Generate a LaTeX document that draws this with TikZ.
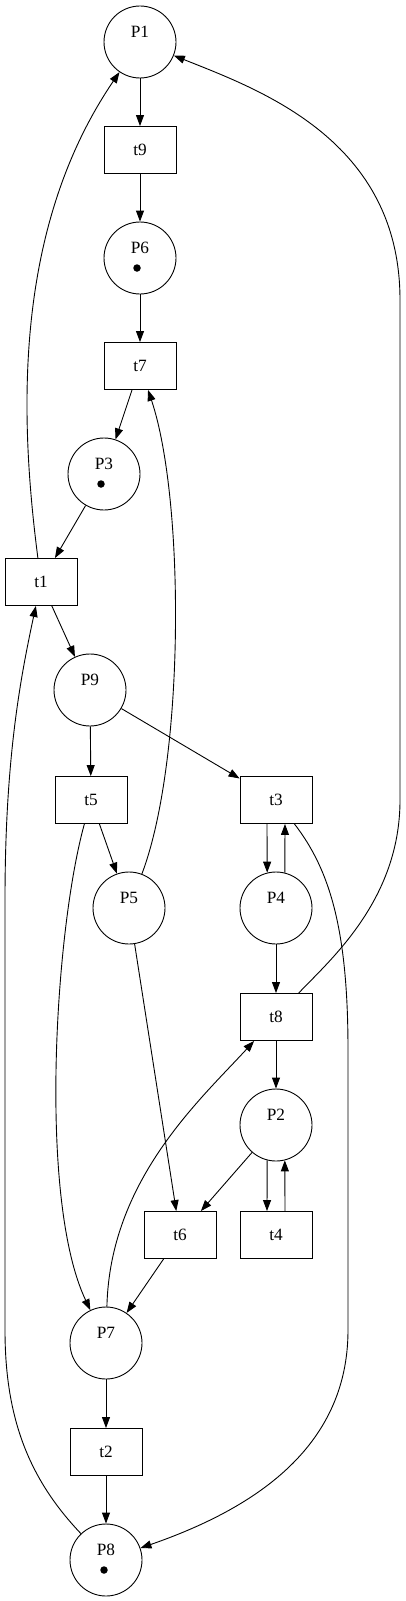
\documentclass[tikz,border=0pt]{standalone}
\usepackage{fontspec}
\setmainfont{Liberation Serif}
\usetikzlibrary{arrows.meta}
\newcommand{\pnfont}{\fontsize{17.3}{19}\selectfont}

\begin{document}
\begin{tikzpicture}[x=1bp, y=-1bp, ->, >={Triangle[length=11bp,width=8bp]}, line width=0.9bp,
    every node/.append style={font=\pnfont},
    every label/.append style={font=\pnfont},
    place/.style = {draw, circle, minimum size=72bp, inner sep=0pt, label={[yshift=10bp]center:#1}},
    trans/.style = {draw, rectangle, minimum width=72bp, minimum height=47bp, inner sep=0pt},
    tok/.style = {circle, fill, inner sep=0pt, minimum size=7.5bp}]
    \useasboundingbox (0,0) rectangle (405,1601);
    % Nodes

    \node[place=P1] (P1) at (140, 42) {};
    \node[trans] (t9) at (140, 150) {t9};
    \node[place=P6] (P6) at (140, 258) {};
    \node[trans] (t7) at (140, 366) {t7};
    \node[place=P3] (P3) at (104, 474) {};
    \node[trans] (t1) at (41, 582) {t1};
    \node[place=P9] (P9) at (90, 690) {};
    \node[trans] (t5) at (91, 800) {t5};
    \node[trans] (t3) at (276, 800) {t3};
    \node[place=P5] (P5) at (129, 908) {};
    \node[place=P4] (P4) at (276, 908) {};
    \node[trans] (t8) at (276, 1017) {t8};
    \node[place=P2] (P2) at (276, 1125) {};
    \node[trans] (t6) at (180, 1235) {t6};
    \node[trans] (t4) at (276, 1235) {t4};
    \node[place=P7] (P7) at (106, 1343) {};
    \node[trans] (t2) at (106, 1452) {t2};
    \node[place=P8] (P8) at (106, 1560) {};

    % Tokens
    \node[tok] (P6tok) at ([shift={(-3,10)}]P6.center) {};
    \node[tok] (P3tok) at ([shift={(-3,10)}]P3.center) {};
    \node[tok] (P8tok) at ([shift={(-2,10)}]P8.center) {};

    % Edges
    \draw (P1) -- (t9);
    \draw (t9) -- (P6);
    \draw (P6) -- (t7);
    \draw (t7) -- (P3);
    \draw (P3) -- (t1);
    \draw (t1) -- (P9);
    \draw (P9) -- (t5);
    \draw (P9) -- (t3);
    \draw (t5) -- (P5);
    \draw ([xshift=-9bp]t3.south) -- (P4.104);
    \draw (P4.76) -- ([xshift=9bp]t3.south);
    \draw (P4) -- (t8);
    \draw (t8) -- (P2);
    \draw (P2) -- (t6);
    \draw (P2.256) -- ([xshift=-9bp]t4.north);
    \draw ([xshift=9bp]t4.north) -- (P2.284);
    \draw (P5) -- (t6);
    \draw (t6) -- (P7);
    \draw (P7) -- (t2);
    \draw (t2) -- (P8);

    % Curved edges
    \draw (t1) .. controls (20, 420) and (12, 230) .. (P1);
    \draw (P5) .. controls (185, 760) and (185, 500) .. (t7);
    \draw (t5) .. controls (55, 930) and (38, 1200) .. (P7);
    \draw (P7) .. controls (110, 1180) and (200, 1100) .. (t8);
    \draw (t3) .. controls (330, 870) and (348, 930) .. (348, 1050) -- (348, 1330)
        .. controls (348, 1450) and (250, 1510) .. (P8);
    \draw (t8) .. controls (330, 960) and (400, 900) .. (400, 800) -- (400, 300)
        .. controls (400, 140) and (260, 90) .. (P1);
    \draw (P8) .. controls (30, 1480) and (5, 1420) .. (5, 1330) -- (5, 900)
        .. controls (5, 760) and (20, 680) .. (t1);

\end{tikzpicture}
\end{document}
